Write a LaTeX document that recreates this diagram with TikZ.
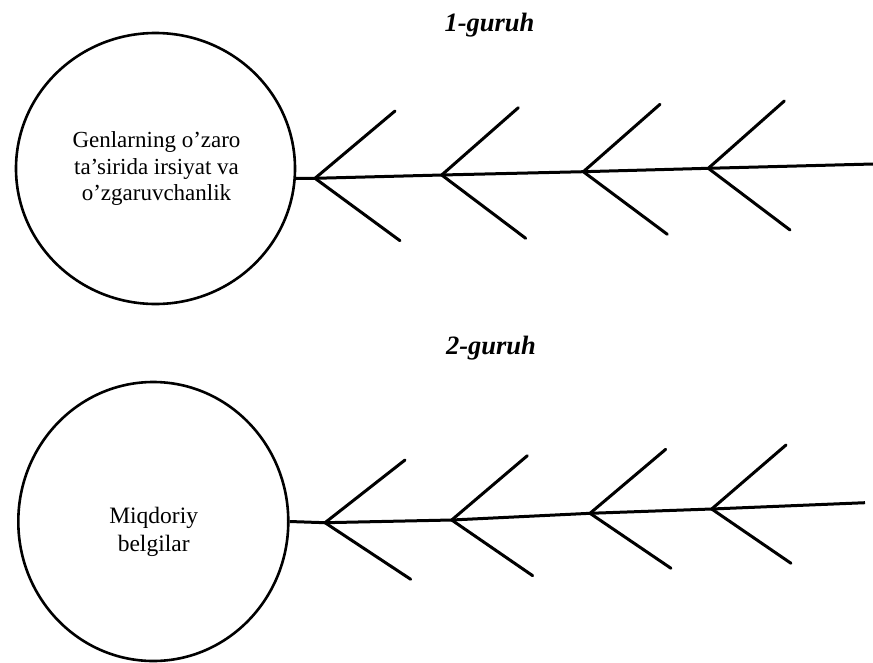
\documentclass[tikz,border=0pt]{standalone}
\usepackage{fontspec}
\setmainfont{Liberation Serif}
\usetikzlibrary{shapes.geometric}
\begin{document}
\begin{tikzpicture}[x=1pt,y=-1pt,
  bone/.style={line width=3pt, line cap=round},
  spine/.style={line width=3pt},
  head/.style={ellipse, draw, line width=2.6pt, inner sep=0pt},
  headtext/.style={align=center, inner sep=0pt, font=\fontsize{23}{26.5}\selectfont},
  grouptitle/.style={font=\fontsize{26.5}{30}\selectfont\bfseries\itshape}]
\useasboundingbox (0,0) rectangle (873,662);
% ---------- group 1 ----------
\node[grouptitle] (t1) at (489.5,25) {1-guruh};
\node[head, minimum width=279pt, minimum height=271pt] (h1) at (155.5,168.5) {};
\node[headtext] (h1t) at (156.5,168.5)
  {Genlarning o’zaro\\ta’sirida irsiyat va\\o’zgaruvchanlik};
\coordinate (j11) at (315,178.3);
\coordinate (j12) at (441.7,175);
\coordinate (j13) at (583.3,171.7);
\coordinate (j14) at (708.3,168.3);
\coordinate (e1) at (873,164);
\coordinate (u11) at (395,111);
\coordinate (u12) at (518.3,107.7);
\coordinate (u13) at (660,104.3);
\coordinate (u14) at (784.3,101);
\coordinate (d11) at (400,240.7);
\coordinate (d12) at (525.7,238.3);
\coordinate (d13) at (667.3,234.3);
\coordinate (d14) at (790,230);
\draw[spine] (h1.-4.3) -- (j11) -- (j12) -- (j13) -- (j14) -- (e1);
\foreach \i in {1,2,3,4}{
  \draw[bone] (u1\i) -- (j1\i) -- (d1\i);
}
% ---------- group 2 ----------
\node[grouptitle] (t2) at (491,348.3) {2-guruh};
\node[head, minimum width=270pt, minimum height=279pt] (h2) at (153.3,521.5) {};
\node[headtext, font=\fontsize{23.5}{28}\selectfont] (h2t) at (153.7,532)
  {Miqdoriy\\belgilar};
\coordinate (j21) at (325,522.7);
\coordinate (j22) at (451.7,520);
\coordinate (j23) at (590,513.3);
\coordinate (j24) at (711.7,509);
\coordinate (e2) at (865,502.7);
\coordinate (u21) at (405,460);
\coordinate (u22) at (527.3,455.7);
\coordinate (u23) at (665.7,449.3);
\coordinate (u24) at (786,445);
\coordinate (d21) at (410.7,579.3);
\coordinate (d22) at (532.7,575.7);
\coordinate (d23) at (671,568.3);
\coordinate (d24) at (791,563.3);
\draw[spine] (h2.-0.7) -- (j21) -- (j22) -- (j23) -- (j24) -- (e2);
\foreach \i in {1,2,3,4}{
  \draw[bone] (u2\i) -- (j2\i) -- (d2\i);
}
\end{tikzpicture}
\end{document}
